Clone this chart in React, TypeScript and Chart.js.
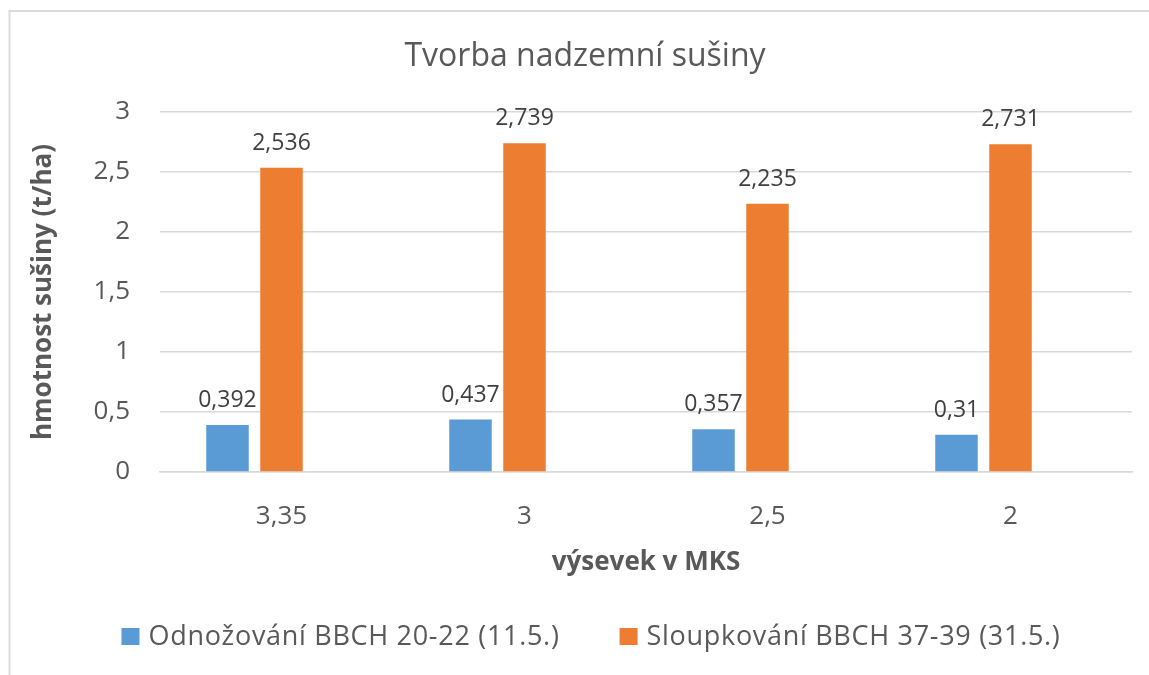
import React, { useEffect, useRef } from "react";
import { Chart, registerables } from "chart.js";

Chart.register(...registerables);

const categories = ["3,35", "3", "2,5", "2"];
const seriesNames = ["Odnožování BBCH 20-22 (11.5.)", "Sloupkování BBCH 37-39 (31.5.)"];
const tilleringValues = [0.392, 0.437, 0.357, 0.31];
const stemValues = [2.536, 2.739, 2.235, 2.731];
const emptyValues = [null, null, null, null];
const yTicks = [0, 0.5, 1, 1.5, 2, 2.5, 3];

const FONT = "'Open Sans', 'DejaVu Sans', sans-serif";
const TEXT = "#595959";
const GRID = "#d9d9d9";
const BLUE = "#5B9BD5";
const ORANGE = "#ED7D31";

const fmt = (v: number) => String(v).replace(".", ",");

const framePlugin = {
  id: "frame",
  beforeDraw(chart: any) {
    const ctx = chart.ctx;
    ctx.save();
    ctx.strokeStyle = "#dcdcdc";
    ctx.lineWidth = 2;
    ctx.beginPath();
    ctx.moveTo(9.5, chart.height);
    ctx.lineTo(9.5, 11);
    ctx.lineTo(chart.width, 11);
    ctx.stroke();
    ctx.restore();
  },
};

const dataLabelPlugin = {
  id: "dataLabels",
  afterDatasetsDraw(chart: any) {
    const ctx = chart.ctx;
    ctx.save();
    ctx.font = `23px ${FONT}`;
    ctx.fillStyle = "#404040";
    ctx.textAlign = "center";
    ctx.textBaseline = "alphabetic";
    chart.data.datasets.forEach((ds: any, i: number) => {
      if (!ds.showLabels) return;
      const meta = chart.getDatasetMeta(i);
      meta.data.forEach((el: any, j: number) => {
        const v = ds.data[j];
        if (v == null) return;
        ctx.fillText(fmt(v), el.x, el.y - 18);
      });
    });
    ctx.restore();
  },
};

const legendPlugin = {
  id: "customLegend",
  afterDraw(chart: any) {
    const ctx = chart.ctx;
    ctx.save();
    ctx.font = `27px ${FONT}`;
    try {
      (ctx as any).letterSpacing = "0.7px";
    } catch (e) {}
    ctx.textBaseline = "middle";
    ctx.textAlign = "left";
    const items = chart.data.datasets.filter((d: any) => d.inLegend);
    const box = 18;
    const gapText = 9;
    const gapItem = 60;
    const widths = items.map((d: any) => box + gapText + ctx.measureText(d.label).width);
    const total = widths.reduce((a: number, b: number) => a + b, 0) + gapItem * (items.length - 1);
    let x = 591 - total / 2;
    const cy = 637;
    items.forEach((d: any, i: number) => {
      ctx.fillStyle = d.backgroundColor;
      ctx.fillRect(x, cy - box / 2, box, box - 1);
      ctx.fillStyle = TEXT;
      ctx.fillText(d.label, x + box + gapText, cy);
      x += widths[i] + gapItem;
    });
    ctx.restore();
  },
};

export default function App() {
  const ref = useRef<HTMLCanvasElement | null>(null);
  useEffect(() => {
    if (!ref.current) return;
    const chart = new Chart(ref.current, {
      type: "bar",
      data: {
        labels: categories,
        datasets: [
          { label: seriesNames[0], data: tilleringValues, backgroundColor: BLUE, showLabels: true, inLegend: true } as any,
          { label: seriesNames[1], data: stemValues, backgroundColor: ORANGE, showLabels: true, inLegend: true } as any,
          { label: "", data: emptyValues, backgroundColor: "transparent", showLabels: false, inLegend: false } as any,
        ],
      },
      options: {
        responsive: false,
        animation: false,
        layout: { padding: { left: 38, right: 17, top: 0, bottom: 60 } },
        datasets: { bar: { categoryPercentage: 0.6667, barPercentage: 0.787 } },
        plugins: {
          legend: { display: false },
          tooltip: { enabled: false },
          title: {
            display: true,
            text: "Tvorba nadzemní sušiny",
            color: TEXT,
            font: { family: FONT, size: 32, weight: "normal" },
            padding: { top: 38, bottom: 35.6 },
          },
        },
        scales: {
          x: {
            grid: { display: false, drawTicks: false },
            border: { display: true, color: GRID, width: 1.5 },
            ticks: { color: TEXT, font: { family: FONT, size: 26 }, padding: 29 },
            title: {
              display: true,
              text: "výsevek v MKS",
              color: TEXT,
              font: { family: FONT, size: 26, weight: "bold" },
              padding: { top: 0, bottom: 37 },
            },
            afterFit(scale: any) {
              scale.height = 143;
            },
          },
          y: {
            min: 0,
            max: 3,
            afterBuildTicks(scale: any) {
              scale.ticks = yTicks.map((v) => ({ value: v }));
            },
            grid: { color: GRID, lineWidth: 1.5, drawTicks: false },
            border: { display: false },
            ticks: {
              color: TEXT,
              font: { family: FONT, size: 26 },
              padding: 30,
              callback: (v: any) => fmt(Number(v)),
            },
            title: {
              display: true,
              text: "hmotnost sušiny (t/ha)",
              color: TEXT,
              font: { family: FONT, size: 26, weight: "bold" },
              padding: { top: -10, bottom: 0 },
            },
            afterFit(scale: any) {
              scale.width = 122;
            },
          },
        },
      },
      plugins: [framePlugin, dataLabelPlugin, legendPlugin],
    });
    return () => chart.destroy();
  }, []);
  return (
    <div style={{ position: "absolute", left: 0, top: 0, width: 1149, height: 675, background: "#fff" }}>
      <canvas ref={ref} width={1149} height={675} />
    </div>
  );
}
